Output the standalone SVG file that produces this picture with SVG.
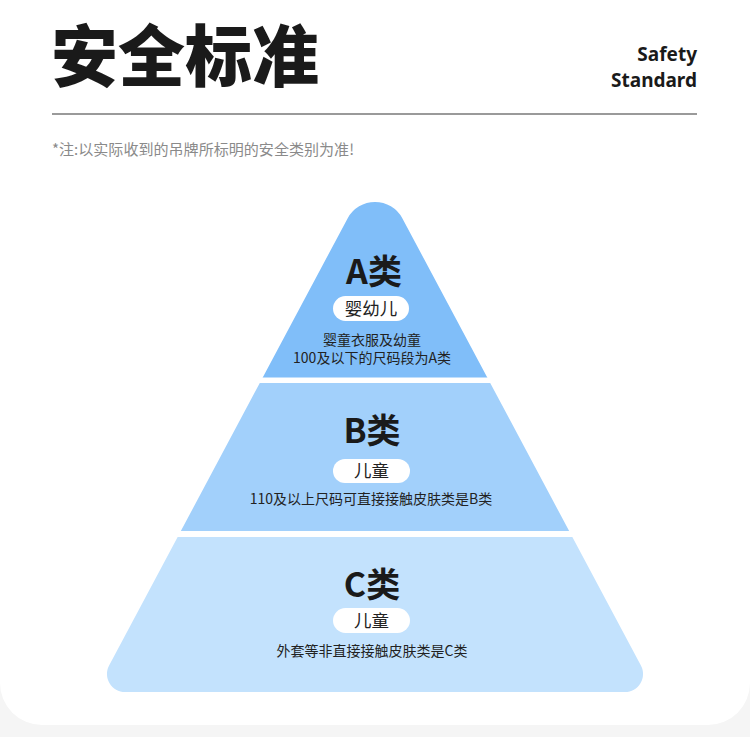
<svg xmlns="http://www.w3.org/2000/svg" xmlns:xlink="http://www.w3.org/1999/xlink" width="750" height="737" viewBox="0 0 750 737">
<style>
.cjk{font-family:"Noto Sans CJK SC","Noto Sans",sans-serif;fill:#1a1a1a}
.title{font-size:67px;font-weight:900}
.en{font-family:"Noto Sans","Open Sans",sans-serif;font-size:19px;font-weight:700;fill:#1a1a1a}
.cls{font-size:34px;font-weight:700;text-anchor:middle}
.tag{font-size:17.5px;font-weight:400;text-anchor:middle;fill:#222}
.desc{font-size:14px;font-weight:400;text-anchor:middle;fill:#222}
.pill{fill:#ffffff}
</style>
<defs>
<path id="pyr" d="M347.7,218.2 A31,31 0 0 1 402.3,218.2 L640.9,665.5 A18,18 0 0 1 625,692 L125,692 A18,18 0 0 1 109.1,665.5 Z"/>
<clipPath id="clipA"><rect x="0" y="0" width="750" height="377.5"/></clipPath>
<clipPath id="clipB"><rect x="0" y="383" width="750" height="148"/></clipPath>
<clipPath id="clipC"><rect x="0" y="537" width="750" height="170"/></clipPath>
</defs>
<rect x="0" y="0" width="750" height="737" fill="#f5f5f5"/>
<rect x="0" y="-60" width="750" height="785" rx="42" fill="#ffffff"/>
<g id="header">
<text class="cjk title" x="51" y="81">安全标准</text>
<text class="en" x="697" y="61" text-anchor="end">Safety</text>
<text class="en" x="697" y="87" text-anchor="end">Standard</text>
<line x1="52" y1="114" x2="697" y2="114" stroke="#9a9a9a" stroke-width="2"/>
<text class="cjk" x="52" y="155" font-size="15" style="fill:#8a8a8a" textLength="302" lengthAdjust="spacingAndGlyphs">*注:以实际收到的吊牌所标明的安全类别为准!</text>
</g>
<g id="tierA">
<use xlink:href="#pyr" fill="#80bef9" clip-path="url(#clipA)"/>
<text class="cjk cls" x="374" y="284">A类</text>
<rect class="pill" x="333" y="296" width="76" height="25" rx="12.5"/>
<text class="cjk tag" x="371" y="315">婴幼儿</text>
<text class="cjk desc" x="372" y="345">婴童衣服及幼童</text>
<text class="cjk desc" x="372" y="363">100及以下的尺码段为A类</text>
</g>
<g id="tierB">
<use xlink:href="#pyr" fill="#a2d0fb" clip-path="url(#clipB)"/>
<text class="cjk cls" x="372" y="443">B类</text>
<rect class="pill" x="333" y="459" width="77" height="24" rx="12"/>
<text class="cjk tag" x="371.5" y="477">儿童</text>
<text class="cjk desc" x="371" y="504">110及以上尺码可直接接触皮肤类是B类</text>
</g>
<g id="tierC">
<use xlink:href="#pyr" fill="#c3e2fd" clip-path="url(#clipC)"/>
<text class="cjk cls" x="372" y="597">C类</text>
<rect class="pill" x="333" y="608" width="77" height="25" rx="12.5"/>
<text class="cjk tag" x="371.5" y="627">儿童</text>
<text class="cjk desc" x="372" y="656">外套等非直接接触皮肤类是C类</text>
</g>
</svg>
